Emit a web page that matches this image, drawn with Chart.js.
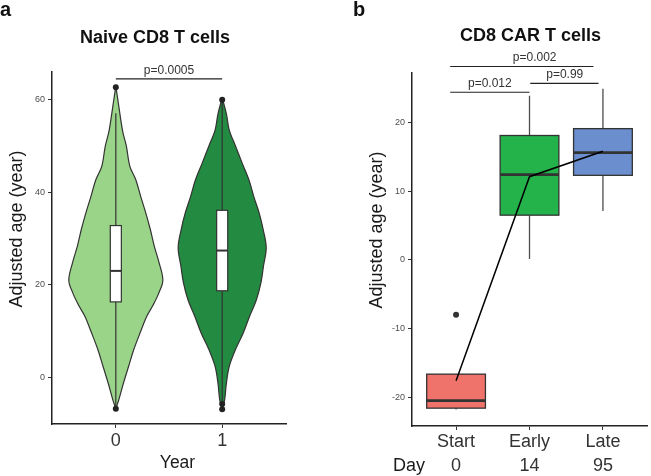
<!DOCTYPE html>
<html>
<head>
<meta charset="utf-8">
<script src="https://cdn.jsdelivr.net/npm/chart.js@4.4.1/dist/chart.umd.min.js"></script>
<style>
  body { margin: 0; background: #fff; width: 651px; height: 476px; position: relative; overflow: hidden; }
  canvas { position: absolute; top: 0; }
</style>
</head>
<body>
<canvas id="naive" width="326" height="476" style="left:0"></canvas>
<canvas id="car" width="325" height="476" style="left:326px"></canvas>
<script>
// panel a - naive CD8 T cells, violin + box per year
const yearLabels = ["0", "1"];
const naiveYTicks = [0, 20, 40, 60];
const naiveColors = ["#9ad488", "#238b41"];
// violin outlines: age value and half width (in category units)
const violinAgeY0 = [62.9, 60, 57, 53, 50, 45.6, 42.7, 39, 35.5, 32, 28.3, 25, 21, 18.2, 15.5, 13.2, 10, 6, 2.5, -1.4, -4.9, -6.8];
const violinHalf0 = [0, 0.019, 0.038, 0.066, 0.099, 0.132, 0.188, 0.235, 0.282, 0.324, 0.362, 0.404, 0.442, 0.404, 0.348, 0.291, 0.235, 0.169, 0.122, 0.070, 0.028, 0];
const violinAgeY1 = [60.4, 57, 53.5, 50, 46.3, 42.7, 39, 35.5, 32, 28, 24, 20.4, 16.7, 13.2, 9.5, 6, 2.3, -1.4, -4.9, -6.9];
const violinHalf1 = [0, 0.039, 0.066, 0.125, 0.188, 0.251, 0.298, 0.348, 0.385, 0.414, 0.388, 0.364, 0.321, 0.258, 0.197, 0.125, 0.066, 0.039, 0.023, 0];
const naiveQ1 = [16.3, 18.7];
const naiveMedian = [23.0, 27.4];
const naiveQ3 = [32.8, 36.1];
const naiveLow = [-6.5, -5.5];
const naiveHigh = [57.1, 60.0];
const naiveOutX = [1, 1, 2, 2, 2];
const naiveOutY = [62.7, -6.8, 60.0, -5.8, -6.9];
const naivePValue = "p=0.0005";

// panel b - CD8 CAR T cells, box per stage
const stageLabels = ["Start", "Early", "Late"];
const dayLabels = ["0", "14", "95"];
const carYTicks = [-20, -10, 0, 10, 20];
const carColors = ["#f0736b", "#24b34b", "#6a8ece"];
const carQ1 = [-21.6, 6.5, 12.3];
const carMedian = [-20.5, 12.4, 15.6];
const carQ3 = [-16.65, 18.1, 19.1];
const carLow = [-21.8, 0.1, 7.1];
const carHigh = [-16.65, 23.9, 24.9];
const carMean = [-17.6, 12.1, 15.8];
const carOutX = [1];
const carOutY = [-8.0];
const carPLabels = ["p=0.002", "p=0.012", "p=0.99"];
const carPFrom = [0.92, 0.92, 2.01];
const carPTo = [2.87, 2.0, 2.94];
const carPLevel = [28.15, 24.4, 25.7];
const carPTextX = [2.07, 1.46, 2.48];

const FONT = "'Liberation Sans', Arial, Helvetica, sans-serif";
Chart.defaults.font.family = FONT;

function violinPoints(ys, halves, center) {
  const left = ys.map((y, i) => ({ x: center - halves[i], y }));
  const right = ys.map((y, i) => ({ x: center + halves[i], y })).reverse();
  return left.concat(right);
}

function text(ctx, str, x, y, font, color, align, baseline, rot) {
  ctx.save();
  ctx.font = font;
  ctx.fillStyle = color;
  ctx.textAlign = align || "center";
  ctx.textBaseline = baseline || "middle";
  ctx.translate(x, y);
  if (rot) ctx.rotate(rot);
  ctx.fillText(str, 0, 0);
  ctx.restore();
}

function drawBox(chart, i, half, q1, med, q3, lo, hi, fill, opt) {
  const ctx = chart.ctx;
  const xs = chart.scales.x, ys = chart.scales.y;
  const cx = xs.getPixelForValue(i + 1);
  const l = xs.getPixelForValue(i + 1 - half), r = xs.getPixelForValue(i + 1 + half);
  const p1 = ys.getPixelForValue(q1[i]), pm = ys.getPixelForValue(med[i]), p3 = ys.getPixelForValue(q3[i]);
  ctx.save();
  ctx.strokeStyle = opt.whisker;
  ctx.lineWidth = opt.lw;
  ctx.beginPath();
  ctx.moveTo(cx, p3); ctx.lineTo(cx, ys.getPixelForValue(hi[i]));
  ctx.moveTo(cx, p1); ctx.lineTo(cx, ys.getPixelForValue(lo[i]));
  ctx.stroke();
  ctx.fillStyle = fill;
  ctx.fillRect(l, p3, r - l, p1 - p3);
  ctx.strokeStyle = "#333";
  ctx.strokeRect(l, p3, r - l, p1 - p3);
  ctx.lineWidth = opt.medLw;
  ctx.beginPath();
  ctx.moveTo(l, pm); ctx.lineTo(r, pm);
  ctx.stroke();
  ctx.restore();
}

function bracket(chart, from, to, level, label, tx) {
  const ctx = chart.ctx;
  const xs = chart.scales.x, ys = chart.scales.y;
  const py = ys.getPixelForValue(level);
  ctx.save();
  ctx.strokeStyle = "#222";
  ctx.lineWidth = 1.2;
  ctx.beginPath();
  ctx.moveTo(xs.getPixelForValue(from), py);
  ctx.lineTo(xs.getPixelForValue(to), py);
  ctx.stroke();
  ctx.restore();
  text(ctx, label, xs.getPixelForValue(tx), py - 5, "12px " + FONT, "#333", "center", "alphabetic");
}

function axisStyle() {
  return {
    grid: { display: true, drawOnChartArea: false, drawTicks: true, tickLength: 4, color: "#333", tickWidth: 1 },
    border: { display: true, color: "#222", width: 1.5 }
  };
}

const naivePlugin = {
  id: "naiveMarks",
  afterDatasetDraw(chart, args) {
    if (args.index !== 1) return;
    for (let i = 0; i < 2; i++) {
      drawBox(chart, i, 0.052, naiveQ1, naiveMedian, naiveQ3, naiveLow, naiveHigh, "#fff",
        { whisker: "#333", lw: 1.2, medLw: 2 });
    }
  },
  afterDraw(chart) {
    const ctx = chart.ctx;
    text(ctx, "a", 0, 16, "bold 20px " + FONT, "#111", "left", "alphabetic");
    text(ctx, "Naive CD8 T cells", 155, 38, "bold 18px " + FONT, "#111");
    text(ctx, "Adjusted age (year)", 17, 229, "18px " + FONT, "#1a1a1a", "center", "middle", -Math.PI / 2);
    text(ctx, "Year", 177.5, 463, "17.5px " + FONT, "#1a1a1a");
    bracket(chart, 1, 2, 64.5, naivePValue, 1.5);
  }
};

const carPlugin = {
  id: "carMarks",
  beforeDatasetsDraw(chart) {
    for (let i = 0; i < 3; i++) {
      drawBox(chart, i, 0.40, carQ1, carMedian, carQ3, carLow, carHigh, carColors[i],
        { whisker: "#4d4d4d", lw: 1.3, medLw: 2.6 });
    }
  },
  afterDraw(chart) {
    const ctx = chart.ctx;
    text(ctx, "b", 27, 16, "bold 20px " + FONT, "#111", "left", "alphabetic");
    text(ctx, "CD8 CAR T cells", 204.5, 36, "bold 18px " + FONT, "#111");
    text(ctx, "Adjusted age (year)", 51, 230, "18px " + FONT, "#1a1a1a", "center", "middle", -Math.PI / 2);
    text(ctx, "Day", 83, 466, "18px " + FONT, "#1a1a1a");
    for (let k = 0; k < carPLabels.length; k++) {
      bracket(chart, carPFrom[k], carPTo[k], carPLevel[k], carPLabels[k], carPTextX[k]);
    }
  }
};

new Chart(document.getElementById("naive"), {
  type: "scatter",
  data: {
    datasets: [
      {
        data: naiveOutX.map((x, i) => ({ x, y: naiveOutY[i] })),
        pointRadius: 3, pointBackgroundColor: "#222", pointBorderWidth: 0, showLine: false
      },
      {
        data: violinPoints(violinAgeY0, violinHalf0, 1),
        showLine: true, fill: "shape", backgroundColor: naiveColors[0], borderColor: "#333",
        borderWidth: 1.2, pointRadius: 0, tension: 0.35
      },
      {
        data: violinPoints(violinAgeY1, violinHalf1, 2),
        showLine: true, fill: "shape", backgroundColor: naiveColors[1], borderColor: "#333",
        borderWidth: 1.2, pointRadius: 0, tension: 0.35
      }
    ]
  },
  options: {
    responsive: false,
    animation: false,
    layout: { padding: { top: 72, right: 40, left: 0, bottom: 0 } },
    plugins: { legend: { display: false }, tooltip: { enabled: false } },
    scales: {
      x: {
        type: "linear", min: 0.4, max: 2.6,
        afterBuildTicks: (s) => { s.ticks = [1, 2].map((v) => ({ value: v })); },
        ticks: { callback: (v) => yearLabels[v - 1], font: { size: 18 }, color: "#333", padding: 2, maxRotation: 0, autoSkip: false },
        afterFit: (s) => { s.height = 52; },
        ...axisStyle()
      },
      y: {
        type: "linear", min: -10.1, max: 66,
        afterBuildTicks: (s) => { s.ticks = naiveYTicks.map((v) => ({ value: v })); },
        ticks: { font: { size: 9 }, color: "#4d4d4d", padding: 3 },
        afterFit: (s) => { s.width = 52; },
        ...axisStyle()
      }
    }
  },
  plugins: [naivePlugin]
});

new Chart(document.getElementById("car"), {
  type: "scatter",
  data: {
    datasets: [
      {
        data: carOutX.map((x, i) => ({ x, y: carOutY[i] })),
        pointRadius: 3, pointBackgroundColor: "#333", pointBorderWidth: 0, showLine: false
      },
      {
        data: carMean.map((y, i) => ({ x: i + 1, y })),
        showLine: true, borderColor: "#000", borderWidth: 1.5, pointRadius: 0, fill: false
      }
    ]
  },
  options: {
    responsive: false,
    animation: false,
    layout: { padding: { top: 73, right: 0, left: 0, bottom: 0 } },
    plugins: { legend: { display: false }, tooltip: { enabled: false } },
    scales: {
      x: {
        type: "linear", min: 0.4, max: 3.6,
        afterBuildTicks: (s) => { s.ticks = [1, 2, 3].map((v) => ({ value: v })); },
        ticks: {
          callback: (v) => [stageLabels[v - 1], dayLabels[v - 1]],
          font: { size: 18, lineHeight: 1.35 }, color: "#333", padding: 0, maxRotation: 0, autoSkip: false
        },
        afterFit: (s) => { s.height = 50; },
        ...axisStyle()
      },
      y: {
        type: "linear", min: -24.2, max: 27.2,
        afterBuildTicks: (s) => { s.ticks = carYTicks.map((v) => ({ value: v })); },
        ticks: { font: { size: 9 }, color: "#4d4d4d", padding: 3 },
        afterFit: (s) => { s.width = 86; },
        ...axisStyle()
      }
    }
  },
  plugins: [carPlugin]
});
</script>
</body>
</html>
